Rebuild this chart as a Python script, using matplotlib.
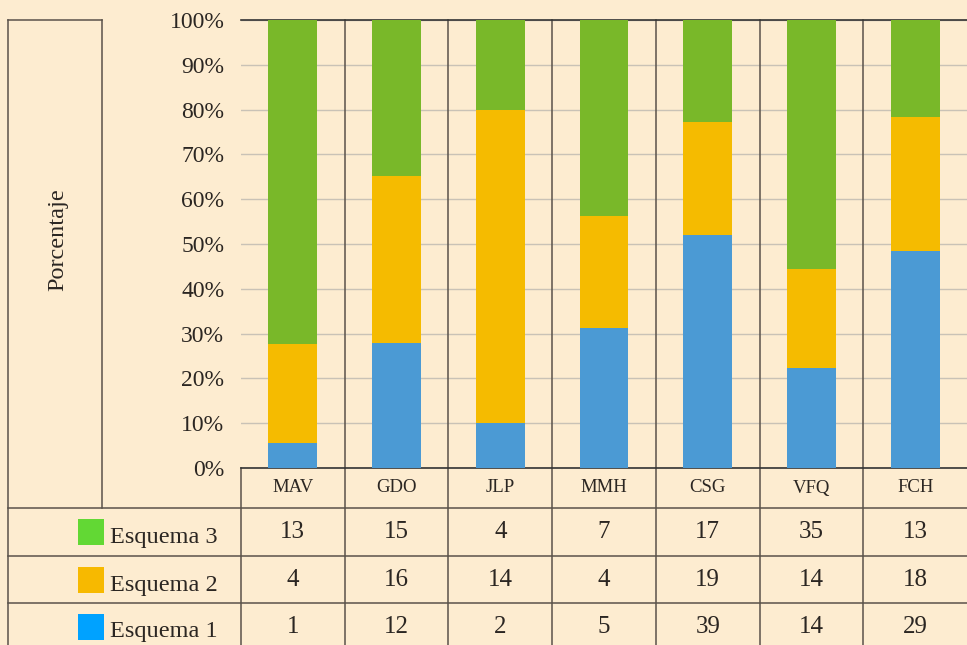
import numpy as np
import matplotlib
matplotlib.use("Agg")
import matplotlib.pyplot as plt
from matplotlib.patches import Rectangle

# Datos (recuentos por esquema)
personas = ["MAV", "GDO", "JLP", "MMH", "CSG", "VFQ", "FCH"]
esquema1 = [1, 12, 2, 5, 39, 14, 29]
esquema2 = [4, 16, 14, 4, 19, 14, 18]
esquema3 = [13, 15, 4, 7, 17, 35, 13]
yticks = [0, 10, 20, 30, 40, 50, 60, 70, 80, 90, 100]

BG = "#fdecd0"
LINE = "#5a524a"
TXT = "#2b2622"
BAR_COLORS = ["#4b9ad4", "#f5bb00", "#79b829"]
SWATCH_COLORS = ["#00a2ff", "#f7b900", "#62d834"]

plt.rcParams["font.family"] = ["Liberation Serif", "DejaVu Serif"]

W, H = 967, 645
fig = plt.figure(figsize=(W / 100, H / 100), dpi=100, facecolor=BG)

# capa fija en pixeles para la estructura de la tabla
frame = fig.add_axes([0, 0, 1, 1], zorder=0)
frame.set_xlim(0, W)
frame.set_ylim(H, 0)
frame.axis("off")
frame.patch.set_alpha(0)

ax = fig.add_axes([241 / W, (H - 468) / H, 726 / W, 448 / H], zorder=1)
ax.set_facecolor("none")

counts = np.array([esquema1, esquema2, esquema3], dtype=float)
pct = counts / counts.sum(axis=0) * 100
x = np.arange(len(personas))

bottom = np.zeros(len(personas))
for vals, col in zip(pct, BAR_COLORS):
    ax.bar(x, vals, bottom=bottom, width=0.47, color=col, zorder=3)
    bottom += vals

ax.set_xlim(-0.5, len(personas) - 0.5)
ax.set_ylim(0, 100)
ax.set_yticks(yticks)
ax.set_yticklabels([f"{v}%" for v in yticks], fontsize=17, color=TXT)
ax.set_xticks([])
ax.tick_params(axis="y", length=0, pad=12)
ax.yaxis.grid(True, color="#c9c2b6", linewidth=1, zorder=0)
for s in ["left", "right"]:
    ax.spines[s].set_visible(False)
for s in ["top", "bottom"]:
    ax.spines[s].set_color("#333333")
    ax.spines[s].set_linewidth(1.2)

# separadores de columnas (suben hasta 100% y bajan por la tabla)
xt = ax.get_xaxis_transform()
for i in range(len(personas) - 1):
    ax.plot([i + 0.5, i + 0.5], [1, -0.6], color=LINE, lw=1.1,
            transform=xt, clip_on=False, zorder=2)
ax.plot([-0.5, -0.5], [0, -0.6], color=LINE, lw=1.1,
        transform=xt, clip_on=False, zorder=2)

# fila de nombres y filas de valores
cat_y = -(488 - 468) / 448
row_y = [-(627 - 468) / 448, -(580 - 468) / 448, -(532 - 468) / 448]
for i, name in enumerate(personas):
    ax.text(i, cat_y, name, transform=xt, ha="center",
            va="center", fontsize=13.5, color=TXT, clip_on=False)
    for r, serie in enumerate([esquema1, esquema2, esquema3]):
        ax.text(i, row_y[r], str(serie[i]), transform=xt, ha="center",
                va="center", fontsize=18, color=TXT, clip_on=False)

# estructura izquierda de la tabla
frame.plot([8, 8], [20, H + 5], color=LINE, lw=1.1)
frame.plot([102, 102], [20, 508], color=LINE, lw=1.1)
frame.plot([8, 102], [20, 20], color=LINE, lw=1.1)
for yy in [508, 556, 603]:
    frame.plot([8, W], [yy, yy], color=LINE, lw=1.1)
frame.text(58, 240, "Porcentaje", rotation=90, ha="center", va="center",
           fontsize=17.5, color=TXT)

etiquetas = ["Esquema 1", "Esquema 2", "Esquema 3"]
sw_top = [614, 567, 519]
for lab, col, top in zip(etiquetas, SWATCH_COLORS, sw_top):
    frame.add_patch(Rectangle((78, top), 26, 26, color=col, lw=0))
    frame.text(110, top + 18, lab, ha="left", va="center",
               fontsize=17.5, color=TXT)

fig.savefig("out.png", dpi=100, facecolor=BG)
